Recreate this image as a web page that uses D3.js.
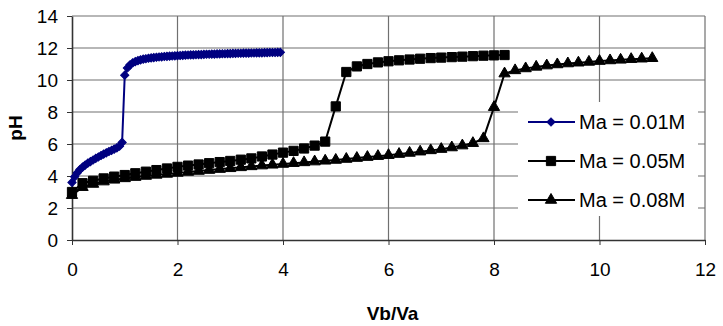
<!DOCTYPE html>
<html>
<head>
<meta charset="utf-8">
<script src="https://cdnjs.cloudflare.com/ajax/libs/d3/7.8.5/d3.min.js"></script>
<style>
  body { margin: 0; background: #fff; }
  text { font-family: Arial, "Liberation Sans", sans-serif; }
</style>
</head>
<body>
<div id="visualization"></div>
<script>
// Ma = 0.01M
var x1 = [0, 0.05, 0.1, 0.15, 0.2, 0.25, 0.3, 0.35, 0.4, 0.45, 0.5, 0.55, 0.6, 0.65, 0.7, 0.75, 0.8, 0.85, 0.9, 0.95,
  1.0, 1.05, 1.1, 1.15, 1.2, 1.25, 1.3, 1.35, 1.4, 1.45, 1.5, 1.55, 1.6, 1.65, 1.7, 1.75, 1.8, 1.85, 1.9, 1.95,
  2.0, 2.05, 2.1, 2.15, 2.2, 2.25, 2.3, 2.35, 2.4, 2.45, 2.5, 2.55, 2.6, 2.65, 2.7, 2.75, 2.8, 2.85, 2.9, 2.95,
  3.0, 3.05, 3.1, 3.15, 3.2, 3.25, 3.3, 3.35, 3.4, 3.45, 3.5, 3.55, 3.6, 3.65, 3.7, 3.75, 3.8, 3.85, 3.9, 3.95];
var ph1 = [3.6, 3.95, 4.2, 4.4, 4.55, 4.68, 4.8, 4.9, 5.0, 5.1, 5.19, 5.28, 5.37, 5.45, 5.53, 5.6, 5.68, 5.76, 5.86, 6.1,
  10.3, 10.75, 10.95, 11.07, 11.15, 11.21, 11.26, 11.3, 11.33, 11.36, 11.38, 11.4, 11.42, 11.44, 11.45, 11.47, 11.48, 11.49, 11.5, 11.51,
  11.52, 11.53, 11.54, 11.55, 11.56, 11.57, 11.57, 11.58, 11.59, 11.59, 11.6, 11.61, 11.61, 11.62, 11.62, 11.63, 11.63, 11.64, 11.64, 11.65,
  11.65, 11.66, 11.66, 11.67, 11.67, 11.68, 11.68, 11.68, 11.69, 11.69, 11.7, 11.7, 11.7, 11.71, 11.71, 11.72, 11.72, 11.72, 11.73, 11.73];

// Ma = 0.05M
var x2 = [0, 0.2, 0.4, 0.6, 0.8, 1.0, 1.2, 1.4, 1.6, 1.8, 2.0, 2.2, 2.4, 2.6, 2.8, 3.0, 3.2, 3.4, 3.6, 3.8, 4.0, 4.2, 4.4, 4.6, 4.8,
  5.0, 5.2, 5.4, 5.6, 5.8, 6.0, 6.2, 6.4, 6.6, 6.8, 7.0, 7.2, 7.4, 7.6, 7.8, 8.0, 8.2];
var ph2 = [3.0, 3.55, 3.7, 3.85, 3.96, 4.06, 4.17, 4.27, 4.37, 4.47, 4.57, 4.65, 4.72, 4.8, 4.87, 4.94, 5.02, 5.1, 5.22, 5.34, 5.46, 5.57, 5.72, 5.9, 6.15,
  8.35, 10.5, 10.85, 11.0, 11.1, 11.17, 11.23, 11.28, 11.33, 11.37, 11.4, 11.43, 11.46, 11.49, 11.52, 11.54, 11.56];

// Ma = 0.08M
var x3 = [0, 0.2, 0.4, 0.6, 0.8, 1.0, 1.2, 1.4, 1.6, 1.8, 2.0, 2.2, 2.4, 2.6, 2.8, 3.0, 3.2, 3.4, 3.6, 3.8,
  4.0, 4.2, 4.4, 4.6, 4.8, 5.0, 5.2, 5.4, 5.6, 5.8, 6.0, 6.2, 6.4, 6.6, 6.8, 7.0, 7.2, 7.4, 7.6, 7.8,
  8.0, 8.2, 8.4, 8.6, 8.8, 9.0, 9.2, 9.4, 9.6, 9.8, 10.0, 10.2, 10.4, 10.6, 10.8, 11.0];
var ph3 = [2.8, 3.3, 3.5, 3.65, 3.76, 3.85, 3.93, 4.0, 4.07, 4.13, 4.19, 4.25, 4.31, 4.37, 4.43, 4.48, 4.54, 4.6, 4.65, 4.7,
  4.75, 4.8, 4.85, 4.9, 4.95, 5.0, 5.06, 5.12, 5.18, 5.24, 5.3, 5.37, 5.44, 5.52, 5.6, 5.68, 5.78, 5.9, 6.05, 6.35,
  8.3, 10.4, 10.6, 10.72, 10.82, 10.9, 10.97, 11.03, 11.08, 11.13, 11.18, 11.22, 11.26, 11.3, 11.33, 11.36];

var seriesNames = ["Ma = 0.01M", "Ma = 0.05M", "Ma = 0.08M"];
var xTicks = [0, 2, 4, 6, 8, 10, 12];
var yTicks = [0, 2, 4, 6, 8, 10, 12, 14];

var margin = { top: 16, right: 18, bottom: 86, left: 72 };
var width = 723 - margin.left - margin.right;
var height = 326 - margin.top - margin.bottom;

var svg = d3.select("#visualization")
  .append("svg")
  .attr("width", 723)
  .attr("height", 326)
  .append("g")
  .attr("transform", "translate(" + margin.left + "," + margin.top + ")");

var xScale = d3.scaleLinear().domain([0, 12]).range([0, width]);
var yScale = d3.scaleLinear().domain([0, 14]).range([height, 0]);

// grid
svg.append("g")
  .selectAll("line")
  .data(yTicks.slice(1))
  .enter()
  .append("line")
  .attr("x1", 0).attr("x2", width)
  .attr("y1", function (d) { return yScale(d); })
  .attr("y2", function (d) { return yScale(d); })
  .attr("stroke", "#707070").attr("stroke-width", 1.2);

svg.append("g")
  .selectAll("line")
  .data(xTicks.slice(1))
  .enter()
  .append("line")
  .attr("y1", 0).attr("y2", height)
  .attr("x1", function (d) { return xScale(d); })
  .attr("x2", function (d) { return xScale(d); })
  .attr("stroke", "#707070").attr("stroke-width", 1.2);

// axes
var xAxis = svg.append("g")
  .attr("transform", "translate(0," + height + ")")
  .call(d3.axisBottom(xScale).tickValues(xTicks).tickSize(5).tickPadding(18).tickSizeOuter(0));
var yAxis = svg.append("g")
  .call(d3.axisLeft(yScale).tickValues(yTicks).tickSize(5).tickPadding(9).tickSizeOuter(0));

[xAxis, yAxis].forEach(function (a) {
  a.select(".domain").attr("stroke", "#333").attr("stroke-width", 1.6);
  a.selectAll(".tick line").attr("stroke", "#333");
  a.selectAll(".tick text").attr("font-size", "19px").attr("fill", "#000")
    .style("font-family", "Arial, 'Liberation Sans', sans-serif");
});

// series
var series = [
  { name: seriesNames[0], xs: x1, ys: ph1, color: "#000080", symbol: d3.symbolSquare, size: 34, rotate: 45 },
  { name: seriesNames[1], xs: x2, ys: ph2, color: "#000000", symbol: d3.symbolSquare, size: 85, rotate: 0 },
  { name: seriesNames[2], xs: x3, ys: ph3, color: "#000000", symbol: d3.symbolTriangle, size: 55, rotate: 0 }
];

var line = d3.line()
  .x(function (d) { return xScale(d[0]); })
  .y(function (d) { return yScale(d[1]); });

series.forEach(function (s) {
  var pts = s.xs.map(function (x, i) { return [x, s.ys[i]]; });
  svg.append("path")
    .datum(pts)
    .attr("d", line)
    .attr("fill", "none")
    .attr("stroke", s.color)
    .attr("stroke-width", 2);
  svg.append("g")
    .selectAll("path")
    .data(pts)
    .enter()
    .append("path")
    .attr("d", d3.symbol().type(s.symbol).size(s.size))
    .attr("transform", function (d) {
      return "translate(" + xScale(d[0]) + "," + yScale(d[1]) + ") rotate(" + s.rotate + ")";
    })
    .attr("fill", s.color)
    .attr("stroke", s.color)
    .attr("stroke-width", 1);
});

// legend
var legend = svg.append("g").attr("transform", "translate(446,86)");
legend.append("rect")
  .attr("width", 180).attr("height", 114)
  .attr("fill", "#fff");
series.forEach(function (s, i) {
  var g = legend.append("g").attr("transform", "translate(0," + (20 + i * 39) + ")");
  g.append("line")
    .attr("x1", 10).attr("x2", 57)
    .attr("stroke", s.color).attr("stroke-width", 2);
  g.append("path")
    .attr("d", d3.symbol().type(s.symbol).size(s.size))
    .attr("transform", "translate(33,0) rotate(" + s.rotate + ")")
    .attr("fill", s.color)
    .attr("stroke", s.color);
  g.append("text")
    .attr("x", 61).attr("y", 7)
    .attr("font-size", "20px")
    .attr("fill", "#000")
    .text(s.name);
});

// axis titles
svg.append("text")
  .attr("x", width / 2 + 4).attr("y", height + 80)
  .attr("text-anchor", "middle")
  .attr("font-size", "19px").attr("font-weight", "bold")
  .text("Vb/Va");

svg.append("text")
  .attr("transform", "translate(" + (-50) + "," + (height / 2) + ") rotate(-90)")
  .attr("text-anchor", "middle")
  .attr("font-size", "19px").attr("font-weight", "bold")
  .text("pH");
</script>
</body>
</html>
